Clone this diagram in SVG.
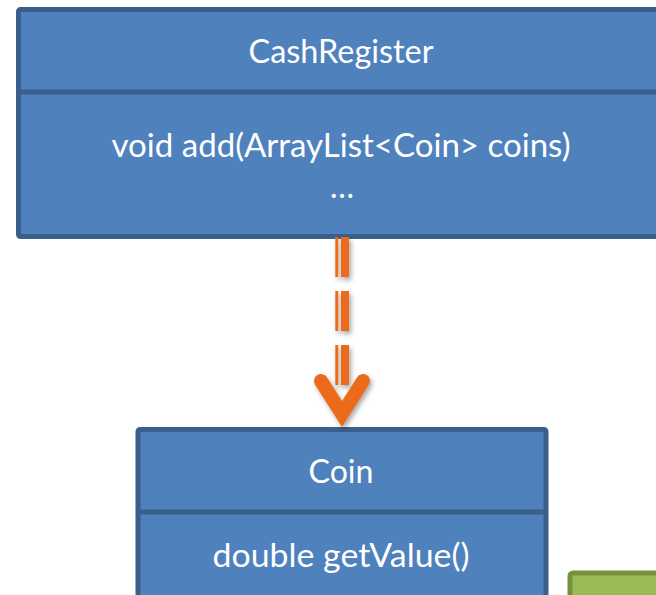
<svg xmlns="http://www.w3.org/2000/svg" width="656" height="595" viewBox="0 0 656 595">
  <defs>
    <style>
      .box { fill: #4F81BD; stroke: #3A5F8C; stroke-width: 5; }
      .div { stroke: #3A5F8C; stroke-width: 5; }
      .green { fill: #9BBB59; stroke: #76923C; stroke-width: 5; }
      .lbl { font-family: Lato, "Open Sans", "Liberation Sans", sans-serif; font-size: 32px; fill: #FFFFFF; text-anchor: middle; }
      .arr { stroke: #EB6A1F; fill: none; }
    </style>
    <filter id="shadow" x="-50%" y="-20%" width="200%" height="140%">
      <feDropShadow dx="2" dy="3" stdDeviation="2.5" flood-color="#000000" flood-opacity="0.35"/>
    </filter>
  </defs>
  <rect width="656" height="595" fill="#FFFFFF"/>

  <g id="node-cashregister">
    <rect class="box" x="18.5" y="9.5" width="650" height="227" rx="2"/>
    <line class="div" x1="18.5" y1="92" x2="668" y2="92"/>
    <text class="lbl" x="341" y="63" textLength="185" lengthAdjust="spacingAndGlyphs">CashRegister</text>
    <text class="lbl" x="341" y="157" textLength="459" lengthAdjust="spacingAndGlyphs">void add(ArrayList&lt;Coin&gt; coins)</text>
    <text class="lbl" x="342" y="198">…</text>
  </g>

  <g id="node-coin">
    <rect class="box" x="138" y="429.5" width="408" height="200" rx="2"/>
    <line class="div" x1="138" y1="512" x2="546" y2="512"/>
    <text class="lbl" x="341" y="483" textLength="65" lengthAdjust="spacingAndGlyphs">Coin</text>
    <text class="lbl" x="341" y="567" textLength="257" lengthAdjust="spacingAndGlyphs">double getValue()</text>
  </g>

  <g id="node-green">
    <rect class="green" x="570" y="573" width="120" height="80" rx="3"/>
  </g>

  <g id="connectors" filter="url(#shadow)">
    <line class="arr" x1="336.8" y1="237" x2="336.8" y2="385" stroke-width="3" stroke-dasharray="40 14"/>
    <line class="arr" x1="345" y1="237" x2="345" y2="385" stroke-width="8" stroke-dasharray="40 14"/>
    <polyline class="arr" points="321,381 342,414 363,381" stroke-width="14" stroke-linecap="round" stroke-linejoin="miter" stroke-miterlimit="4"/>
  </g>
</svg>
